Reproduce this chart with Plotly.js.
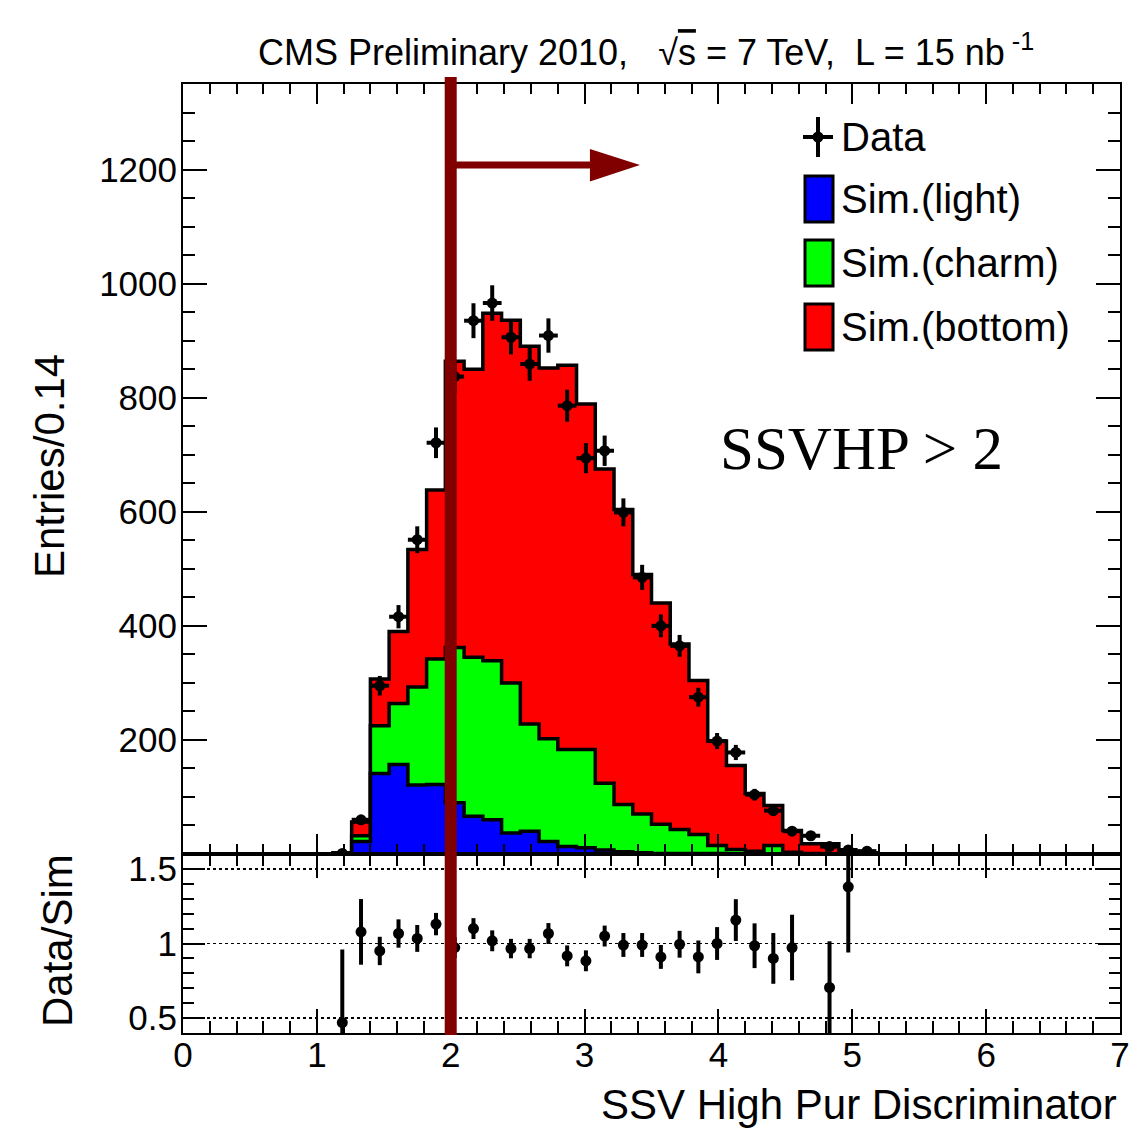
<!DOCTYPE html>
<html>
<head>
<meta charset="utf-8">
<script src="https://cdn.plot.ly/plotly-3.0.1.min.js"></script>
<style>html,body{margin:0;padding:0;background:#fff;}#plot{width:1139px;height:1133px;}</style>
</head>
<body>
<div id="plot"></div>
<script>
// ---------------- data (50 bins of width 0.14 from 0 to 7) ----------------
const binWidth = 0.14;
const nBins = 50;
const lightVals = [0,0,0,0,0,0,0,0, 1,22,141,157,121,122,90,66,60,37,40,22,13,11,7,4,2,1,1,1,1,0, 0,0,0,0,0,0,0,0,0,0, 0,0,0,0,0,0,0,0,0,0];
const charmVals = [0,0,0,0,0,0,0,0, 0,10,84,107,172,220,272,279,279,263,188,180,170,172,117,83,68,51,42,33,14,8, 5,15,3,1,0,0,0,0,0,0, 0,0,0,0,0,0,0,0,0,0];
const bottomVals = [0,0,0,0,0,0,0,0, 1,24,82,126,241,296,502,505,609,636,662,650,674,606,551,517,420,388,325,270,183,147, 101,70,38,17,18,5,2,0,0,0, 0,0,0,0,0,0,0,0,0,0];

const dataX   = [1.19,1.33,1.47,1.61,1.75,1.89,2.03,2.17,2.31,2.45,2.59,2.73,2.87,3.01,3.15,3.29,3.43,3.57,3.71,3.85,3.99,4.13,4.27,4.41,4.55,4.69,4.83,4.97,5.11];
const dataY   = [1,60,295,416,551,721,837,935,966,906,859,909,786,694,707,599,485,400,365,275,198,178,104,76,40,32,13,7,5];
const dataErr = [1,7.7,17.2,20.4,23.5,26.9,28.9,30.6,31.1,30.1,29.3,30.1,28.0,26.3,26.6,24.5,22.0,20.0,19.1,16.6,14.1,13.3,10.2,8.7,6.3,5.7,3.6,2.6,2.2];

const ratioX   = [1.19,1.33,1.47,1.61,1.75,1.89,2.03,2.17,2.31,2.45,2.59,2.73,2.87,3.01,3.15,3.29,3.43,3.57,3.71,3.85,3.99,4.13,4.27,4.41,4.55,4.83,4.97];
const ratioY   = [0.47,1.078,0.95,1.067,1.034,1.13,0.973,1.10,1.018,0.966,0.966,1.067,0.917,0.884,1.05,0.99,0.99,0.91,0.995,0.91,1.0,1.157,0.985,0.90,0.973,0.705,1.38];
const ratioErr = [0.49,0.22,0.095,0.095,0.09,0.075,0.07,0.07,0.07,0.065,0.065,0.07,0.07,0.07,0.07,0.08,0.08,0.08,0.09,0.11,0.11,0.14,0.15,0.17,0.22,0.31,0.44];

const xTickLabels = ['0','1','2','3','4','5','6','7'];
const cutValue = 2.0;
const arrowEnd = 3.414;
const arrowY = 1208;
const legendLabels = ['Data','Sim.(light)','Sim.(charm)','Sim.(bottom)'];
const legendColors = ['#0000ff','#00ff00','#ff0000'];

// ---------------- build step outlines ----------------
const edges = [];
for (let i = 0; i <= nBins; i++) edges.push(+(i * binWidth).toFixed(4));
function stepY(arr) { const y = arr.slice(); y.push(arr[arr.length - 1]); return y; }
const cumLight = lightVals.slice();
const cumCharm = lightVals.map((v, i) => v + charmVals[i]);
const cumTotal = lightVals.map((v, i) => v + charmVals[i] + bottomVals[i]);

function histTrace(vals, color) {
  return {
    x: edges, y: stepY(vals), type: 'scatter', mode: 'lines',
    line: {shape: 'hv', color: '#000', width: 3.5},
    fill: 'tozeroy', fillcolor: color, xaxis: 'x', yaxis: 'y',
    hoverinfo: 'skip', showlegend: false
  };
}

const traces = [
  histTrace(cumTotal, '#ff0000'),
  histTrace(cumCharm, '#00ff00'),
  histTrace(cumLight, '#0000ff'),
  {
    x: dataX, y: dataY, type: 'scatter', mode: 'markers', xaxis: 'x', yaxis: 'y',
    marker: {color: '#000', size: 11},
    error_y: {type: 'data', array: dataErr, color: '#000', thickness: 4, width: 0},
    error_x: {type: 'constant', value: binWidth / 2, color: '#000', thickness: 4, width: 0},
    showlegend: false, hoverinfo: 'skip'
  },
  {
    x: ratioX, y: ratioY, type: 'scatter', mode: 'markers', xaxis: 'x2', yaxis: 'y2',
    marker: {color: '#000', size: 11},
    error_y: {type: 'data', array: ratioErr, color: '#000', thickness: 4, width: 0},
    showlegend: false, hoverinfo: 'skip'
  }
];

// ---------------- layout helpers ----------------
const PL = 183, PT = 84, PW = 937, PH = 949;
function xp(px) { return (px - PL) / PW; }
function yp(py) { return (PT + PH - py) / PH; }
const ratioFrac = 179 / PH;
const FONT = 'Liberation Sans, Arial, Helvetica, sans-serif';

const axisCommon = {
  showline: true, linecolor: '#000', linewidth: 2, mirror: 'ticks',
  ticks: 'inside', tickcolor: '#000', tickwidth: 2,
  showgrid: false, zeroline: false,
  tickfont: {family: FONT, size: 35, color: '#000'}
};

const layout = {
  width: 1139, height: 1133,
  margin: {l: PL, r: 19, t: PT, b: 100},
  paper_bgcolor: '#fff', plot_bgcolor: 'rgba(0,0,0,0)',
  showlegend: false,
  xaxis: Object.assign({}, axisCommon, {
    domain: [0, 1], anchor: 'y', range: [0, 7], dtick: 1, tick0: 0, ticklen: 20,
    showticklabels: false,
    minor: {ticks: 'inside', dtick: 0.2, tick0: 0, ticklen: 10, tickwidth: 2, tickcolor: '#000', showgrid: false}
  }),
  yaxis: Object.assign({}, axisCommon, {
    domain: [ratioFrac, 1], anchor: 'x', range: [0, 1350],
    tickmode: 'array', tickvals: [200, 400, 600, 800, 1000, 1200], ticktext: ['200','400','600','800','1000','1200'],
    ticklen: 24, ticklabelstandoff: -3,
    minor: {ticks: 'inside', tickmode: 'linear', dtick: 50, tick0: 0, ticklen: 12, tickwidth: 2, tickcolor: '#000', showgrid: false}
  }),
  xaxis2: Object.assign({}, axisCommon, {
    domain: [0, 1], anchor: 'y2', range: [0, 7],
    tickmode: 'array', tickvals: [0,1,2,3,4,5,6,7], ticktext: xTickLabels,
    ticklen: 24, ticklabelstandoff: -10,
    minor: {ticks: 'inside', tickmode: 'linear', dtick: 0.2, tick0: 0, ticklen: 12, tickwidth: 2, tickcolor: '#000', showgrid: false}
  }),
  yaxis2: Object.assign({}, axisCommon, {
    domain: [0, ratioFrac], anchor: 'x2', range: [0.4, 1.6],
    tickmode: 'linear', tick0: 0.5, dtick: 0.5, ticklen: 22, ticklabelstandoff: -3,
    showgrid: true, gridcolor: '#000', gridwidth: 1.5, griddash: 'dot',
    minor: {ticks: 'inside', tickmode: 'linear', dtick: 0.1, tick0: 0, ticklen: 11, tickwidth: 2, tickcolor: '#000', showgrid: false}
  }),
  shapes: [],
  annotations: []
};

// cut line and arrow
layout.shapes.push({type: 'line', xref: 'x', yref: 'paper', x0: cutValue, x1: cutValue, y0: yp(1035), y1: yp(77),
  line: {color: '#800000', width: 12}, layer: 'above'});
layout.shapes.push({type: 'line', xref: 'x', yref: 'y', x0: cutValue, x1: 3.07, y0: arrowY, y1: arrowY,
  line: {color: '#800000', width: 7}, layer: 'above'});
layout.shapes.push({type: 'path', xref: 'x', yref: 'y',
  path: 'M 3.04,1236 L ' + arrowEnd + ',' + arrowY + ' L 3.04,1179 Z',
  fillcolor: '#800000', line: {width: 0}, layer: 'above'});

// custom legend
const rowY = [137, 199, 263, 327];
layout.shapes.push({type: 'line', xref: 'paper', yref: 'paper', x0: xp(818), x1: xp(818), y0: yp(117), y1: yp(157), line: {color: '#000', width: 4}});
layout.shapes.push({type: 'line', xref: 'paper', yref: 'paper', x0: xp(803), x1: xp(833), y0: yp(137), y1: yp(137), line: {color: '#000', width: 4}});
layout.shapes.push({type: 'circle', xref: 'paper', yref: 'paper', x0: xp(812.5), x1: xp(823.5), y0: yp(131.5), y1: yp(142.5), fillcolor: '#000', line: {width: 0}});
for (let k = 0; k < 3; k++) {
  const cy = rowY[k + 1];
  layout.shapes.push({type: 'rect', xref: 'paper', yref: 'paper', x0: xp(805), x1: xp(833), y0: yp(cy + 23), y1: yp(cy - 23),
    fillcolor: legendColors[k], line: {color: '#000', width: 3}});
}
for (let k = 0; k < 4; k++) {
  layout.annotations.push({xref: 'paper', yref: 'paper', x: xp(839), y: yp(rowY[k]), xanchor: 'left', yanchor: 'middle',
    text: legendLabels[k], showarrow: false, font: {family: FONT, size: 40, color: '#000'}});
}

// texts
layout.annotations.push({xref: 'paper', yref: 'paper', x: xp(646), y: yp(50), xanchor: 'center', yanchor: 'middle', showarrow: false,
  text: 'CMS Preliminary 2010,\u00a0\u00a0\u00a0\u221A<span style="text-decoration:overline">s</span> = 7 TeV,\u00a0\u00a0L = 15 nb<sup> -1</sup>',
  font: {family: FONT, size: 36, color: '#000'}});
layout.annotations.push({xref: 'paper', yref: 'paper', x: xp(50), y: yp(466), xanchor: 'center', yanchor: 'middle', showarrow: false,
  textangle: -90, text: 'Entries/0.14', font: {family: FONT, size: 42, color: '#000'}});
layout.annotations.push({xref: 'paper', yref: 'paper', x: xp(57), y: yp(941), xanchor: 'center', yanchor: 'middle', showarrow: false,
  textangle: -90, text: 'Data/Sim', font: {family: FONT, size: 42, color: '#000'}});
layout.annotations.push({xref: 'paper', yref: 'paper', x: xp(1119), y: yp(1104), xanchor: 'right', yanchor: 'middle', showarrow: false,
  text: 'SSV High Pur Discriminator', font: {family: FONT, size: 42, color: '#000'}});
layout.annotations.push({xref: 'paper', yref: 'paper', x: xp(861), y: yp(448), xanchor: 'center', yanchor: 'middle', showarrow: false,
  text: 'SSVHP > 2', font: {family: 'Liberation Serif, Times New Roman, serif', size: 61, color: '#000'}});

Plotly.newPlot('plot', traces, layout, {staticPlot: true, displayModeBar: false});
</script>
</body>
</html>
